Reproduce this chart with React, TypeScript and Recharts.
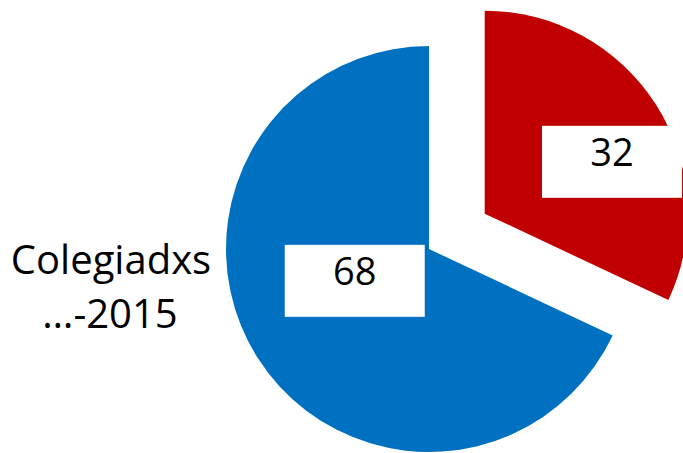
import React from 'react';
import { PieChart, Pie, Cell } from 'recharts';

const categories = ['Resto', 'Colegiadxs …-2015'];
const values = [32, 68];
const colors = ['#C00000', '#0070C0'];
const labelLines = ['Colegiadxs', '…-2015'];

const data = categories.map((name, i) => ({ name, value: values[i] }));

const W = 683;
const H = 453;
const CX = 429;
const CY = 249;
const R = 203;
const EXPLODE = 66;
const RADIAN = Math.PI / 180;
const total = values.reduce((a, b) => a + b, 0);
const redMid = 90 - ((values[0] / total) * 360) / 2;
const redCx = CX + EXPLODE * Math.cos(redMid * RADIAN);
const redCy = CY - EXPLODE * Math.sin(redMid * RADIAN);

const BOX_W = 140;
const BOX_H = 72;
const tweaks = [
  { dx: 33, dy: 8 },
  { dx: 20, dy: -28 },
];

const makeLabel = (which: number) => (props: any) => {
  const { cx, cy, midAngle, outerRadius, index, value } = props;
  if (index !== which) return null;
  const r = outerRadius * 0.55;
  const x = cx + r * Math.cos(-midAngle * RADIAN) + tweaks[index].dx;
  const y = cy + r * Math.sin(-midAngle * RADIAN) + tweaks[index].dy;
  return (
    <g key={`lbl-${which}`}>
      <rect x={x - BOX_W / 2} y={y - BOX_H / 2} width={BOX_W} height={BOX_H} fill="#ffffff" />
      <text
        x={x}
        y={y - BOX_H / 2 + 40}
        textAnchor="middle"
        fontFamily="'Open Sans', sans-serif"
        fontSize={38}
        fill="#000000"
      >
        {value}
      </text>
    </g>
  );
};

export default function App() {
  return (
    <div style={{ position: 'absolute', left: 0, top: 0, width: W, height: H, background: '#fff' }}>
      <PieChart width={W} height={H} margin={{ top: 0, right: 0, bottom: 0, left: 0 }}>
        <Pie
          data={data}
          dataKey="value"
          nameKey="name"
          cx={CX}
          cy={CY}
          outerRadius={R}
          startAngle={90}
          endAngle={-270}
          stroke="none"
          labelLine={false}
          label={makeLabel(1)}
          isAnimationActive={false}
        >
          {data.map((d, i) => (
            <Cell key={`b-${i}`} fill={i === 1 ? colors[1] : 'none'} />
          ))}
        </Pie>
        <Pie
          data={data}
          dataKey="value"
          nameKey="name"
          cx={redCx}
          cy={redCy}
          outerRadius={R}
          startAngle={90}
          endAngle={-270}
          stroke="none"
          labelLine={false}
          label={makeLabel(0)}
          isAnimationActive={false}
        >
          {data.map((d, i) => (
            <Cell key={`r-${i}`} fill={i === 0 ? colors[0] : 'none'} />
          ))}
        </Pie>
      </PieChart>
      <svg
        width={W}
        height={H}
        style={{ position: 'absolute', left: 0, top: 0, pointerEvents: 'none' }}
      >
        <text x={111} y={274} textAnchor="middle" fontFamily="'Open Sans', sans-serif" fontSize={40} fill="#000">
          {labelLines[0]}
        </text>
        <text x={110} y={328} textAnchor="middle" fontFamily="'Open Sans', sans-serif" fontSize={40} fill="#000">
          {labelLines[1]}
        </text>
      </svg>
    </div>
  );
}
